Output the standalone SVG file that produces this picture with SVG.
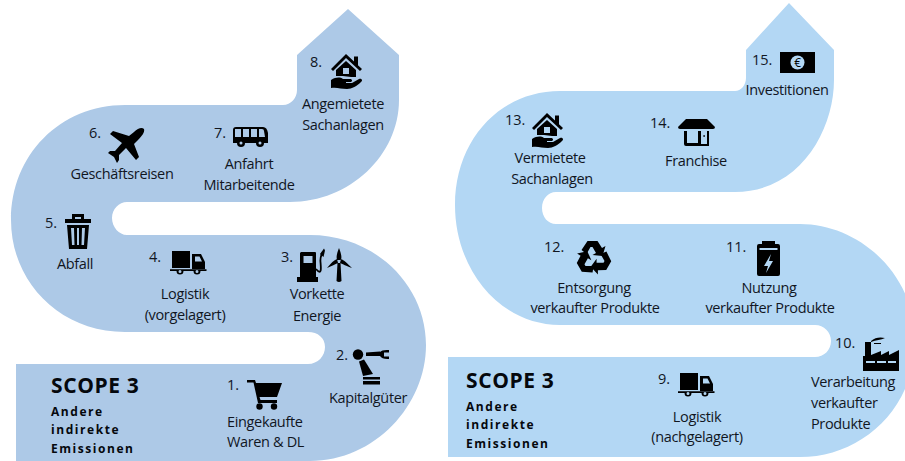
<svg xmlns="http://www.w3.org/2000/svg" xmlns:xlink="http://www.w3.org/1999/xlink" width="905" height="461" viewBox="0 0 905 461">
<style>
text{font-family:"Open Sans","Noto Sans","Liberation Sans",sans-serif;font-size:14.5px;letter-spacing:-.35px;fill:#11161f}
.m{text-anchor:middle}
.n{font-size:14.5px;letter-spacing:0}
.h{font-size:21px;font-weight:700;letter-spacing:.6px;fill:#05080d}
.s{font-size:12px;font-weight:700;letter-spacing:1.55px;fill:#05080d}
.i{fill:#000}
</style>
<defs>
<path id="truck" class="i" fill-rule="evenodd" d="M1 0H19V17H1ZM21 3H30L34 11V18H21ZM24 5.500V10.500H31L28.500 5.500ZM-1 18.300H35.500V20H29.500A3.500 3.500 0 1 1 22.500 20H12.500A3.500 3.500 0 1 1 5.500 20H-1ZM9 19A1.500 1.500 0 1 0 9 22A1.500 1.500 0 1 0 9 19ZM26 19A1.500 1.500 0 1 0 26 22A1.500 1.500 0 1 0 26 19Z"/>
<g id="house"><path class="i" d="M15 0L31 15L29 17L15 4L2 17L0 15ZM23 2.500H27V12L23 8Z"/><path class="i" fill-rule="evenodd" d="M15 7L25 16V23H20L12 22H5V16ZM12 14V20H18V14Z"/><path class="i" d="M0 26C5 23 9 23 12 25H19C21 25 22 27 20 28H15V29H21L28 25C31 24 32 27 30 28C26 32 21 35 16 35C10 35 6 33 0 34Z"/></g>
<path id="arrow" class="i" d="M-12 -8L-6 -17H4L8.500 -10L12 -12L9 -2L-1 -3L2.500 -5L-1 -11H-3L-7 -4Z"/>
</defs>
<g id="ribbons">
<path id="ribbon-left" fill="#adc9e7" d="M348 9L399 55V100C399 155 350 202 290 202H127C119 202 112 209 112 218C112 227 119 235 127 235H310C375 235 426 285 426 345C426 405 375 461 310 461H16V364H308C318 364 325 356 325 347C325 338 318 332 308 332H125C60 332 11 282 11 220C11 155 60 105 125 105H283C291 105 297 98 297 90V55Z"/>
<path id="ribbon-right" fill="#b3d7f4" d="M789 3L834 50V80C834 130 800 192 735 192H556C548 192 542 199 542 208C542 217 548 224 556 224H800C860 224 915 275 915 340C915 410 860 457 800 457H448V357H815C824 357 831 350 831 341C831 332 824 325 815 325H560C500 325 455 270 455 205C455 140 500 91 560 91H735C741 91 746 85 746 78V50Z"/>
</g>
<g id="connectors"/>
<g id="title-left"><text class="h" x="51" y="393">SCOPE 3</text><text class="s" x="51" y="416">Andere</text><text class="s" x="51" y="434">indirekte</text><text class="s" x="51" y="453">Emissionen</text></g>
<g id="title-right"><text class="h" x="466" y="388">SCOPE 3</text><text class="s" x="466" y="411">Andere</text><text class="s" x="466" y="429">indirekte</text><text class="s" x="466" y="448">Emissionen</text></g>

<g id="node-1"><text class="n" x="227" y="390">1.</text>
<path class="i" d="M247 380H255L256 383H282L277 397H259.500L260.500 400H277V403H258L253.500 382.500H247Z"/><circle class="i" cx="259.500" cy="406.500" r="3.200"/><circle class="i" cx="274" cy="406.500" r="3.200"/>
<text x="227" y="427">Eingekaufte</text><text x="227" y="447">Waren &amp; DL</text></g>

<g id="node-2"><text class="n" x="336" y="360">2.</text>
<circle class="i" cx="358" cy="354.500" r="5.200"/><path class="i" d="M366 352.500L380 351.500V356L366 356ZM380 352Q382 349.500 389 350V352.500H384V356.500H389V359Q382 359.500 380 356Z"/><path class="i" d="M359 361.500L364 359.500L373 374L363 376Z"/><path class="i" d="M363 377H380V379.500H363ZM363 381H380V384.500H363Z"/>
<text class="m" x="368" y="403">Kapitalgüter</text></g>

<g id="node-3"><text class="n" x="281" y="262">3.</text>
<path class="i" fill-rule="evenodd" d="M301 252Q301 252 302 252H315Q316 252 316 253V277H318V282H297V277H300V253ZM303.500 256V263H312.500V256Z"/><path d="M316 269C322 276 321 268 320.500 262C320 258 321 256 322 253" fill="none" stroke="#000" stroke-width="1.800"/><path class="i" d="M320 254L324 248.500L325 250.500L323.500 257Z"/>
<path class="i" d="M339 248C341 253 342 257 341 260H337C336 257 337 253 339 248ZM327 268C331 263 334 260 337 259L338 263C335 264 332 266 327 268ZM352 268C347 263 344 260 341 259L340 263C343 264 346 266 352 268ZM337.500 263H340.500L341.500 281Q339 283 336.500 281Z"/>
<text class="m" x="317" y="299">Vorkette</text><text class="m" x="317" y="321">Energie</text></g>

<g id="node-4"><text class="n" x="149" y="262">4.</text>
<use xlink:href="#truck" href="#truck" x="171" y="251"/>
<text class="m" x="185" y="299">Logistik</text><text class="m" x="185" y="320">(vorgelagert)</text></g>

<g id="node-5"><text class="n" x="45" y="228">5.</text>
<path class="i" fill-rule="evenodd" d="M65 219H91V223H65ZM72 219V214H84V219H81V217H75V219ZM67 225H89L87 249H69ZM71 228L72 245H74.500L74 228ZM77 228V245H79V228ZM82 228L81.500 245H84L85 228Z"/>
<text class="m" x="75" y="269">Abfall</text></g>

<g id="node-6"><text class="n" x="89" y="138">6.</text>
<path class="i" d="M144 129C145 132 142 136 138 140L134 144L139 157L136 160L126 148L119 155L119 160L117 163L114 157L108 153L110 151L115 151L122 143L110 134L113 131L129 136L134 132C138 128 142 127 144 129Z"/>
<text class="m" x="122" y="179">Geschäftsreisen</text></g>

<g id="node-7"><text class="n" x="214" y="138">7.</text>
<path class="i" fill-rule="evenodd" d="M233 130Q233 127 236 127H263Q267 127 268 133V143H233ZM235 129V137H241V129ZM243 129V137H249V129ZM251 129V137H257V129ZM259 129V137H265L264 131Q264 129 262 129Z"/><circle class="i" cx="241" cy="143" r="4"/><circle cx="241" cy="143" r="1.500" fill="#adc9e7"/><circle class="i" cx="260" cy="143" r="4"/><circle cx="260" cy="143" r="1.500" fill="#adc9e7"/>
<text class="m" x="249" y="169">Anfahrt</text><text class="m" x="249" y="190">Mitarbeitende</text></g>

<g id="node-8"><text class="n" x="310" y="67">8.</text>
<use xlink:href="#house" href="#house" x="331" y="54"/>
<text class="m" x="343" y="109">Angemietete</text><text class="m" x="343" y="130">Sachanlagen</text></g>

<g id="node-9"><text class="n" x="658" y="384">9.</text>
<use xlink:href="#truck" href="#truck" x="679" y="373"/>
<text class="m" x="697" y="422">Logistik</text><text class="m" x="697" y="442">(nachgelagert)</text></g>

<g id="node-10"><text class="n" x="835" y="348">10.</text>
<path class="i" fill-rule="evenodd" d="M863 371V356H865V342H871V355L881 351V355L889 351V355L899 350V371ZM866 361V363H875V361ZM877 361V363H886V361ZM888 361V363H896V361Z"/><path class="i" d="M871 341C875 337 881 337 885 338C881 340 876 340 871 342ZM874 343H881V344H874Z"/>
<text x="811" y="387">Verarbeitung</text><text x="811" y="408">verkaufter</text><text x="811" y="429">Produkte</text></g>

<g id="node-11"><text class="n" x="726" y="252">11.</text>
<path class="i" fill-rule="evenodd" d="M762 241H775V244H778Q780 244 780 246V274Q780 276 778 276H759Q757 276 757 274V246Q757 244 759 244H762ZM759.500 248V250H777.500V248ZM771 254L764 266H768L766 273L773 261H769Z"/>
<text class="m" x="769" y="293">Nutzung</text><text class="m" x="770" y="313">verkaufter Produkte</text></g>

<g id="node-12"><text class="n" x="544" y="252">12.</text>
<g transform="translate(593.500 258)"><use xlink:href="#arrow" href="#arrow"/><use xlink:href="#arrow" href="#arrow" transform="rotate(120)"/><use xlink:href="#arrow" href="#arrow" transform="rotate(240)"/></g>
<text class="m" x="594" y="293">Entsorgung</text><text class="m" x="595" y="313">verkaufter Produkte</text></g>

<g id="node-13"><text class="n" x="505" y="125">13.</text>
<use xlink:href="#house" href="#house" x="532" y="113"/>
<text class="m" x="550" y="163">Vermietete</text><text class="m" x="552" y="184">Sachanlagen</text></g>

<g id="node-14"><text class="n" x="650" y="128">14.</text>
<path class="i" d="M686 119H707L715 127Q715 129 713 129H680Q678 129 678 127Z"/><path class="i" fill-rule="evenodd" d="M684 131H709V146H686Q684 146 684 144ZM687 131V143H698V131ZM701 131V144H707V131Z"/><rect class="i" x="703.500" y="135" width="1.200" height="2"/>
<text class="m" x="696" y="166">Franchise</text></g>

<g id="node-15"><text class="n" x="752" y="65">15.</text>
<rect class="i" x="780" y="52" width="35" height="21"/><circle cx="797.500" cy="62.500" r="7" fill="#b3d7f4"/><text class="m" x="797.500" y="67" style="font-size:12px;fill:#000">€</text>
<text class="m" x="787" y="95">Investitionen</text></g>
</svg>
